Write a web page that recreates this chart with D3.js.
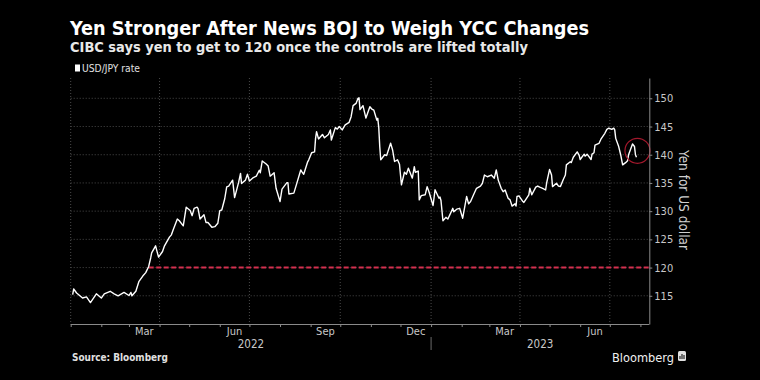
<!DOCTYPE html>
<html>
<head>
<meta charset="utf-8">
<script src="https://cdn.jsdelivr.net/npm/d3@7"></script>
<style>
  html, body { margin: 0; padding: 0; background: #000; }
  svg { display: block; }
  text { font-family: "DejaVu Sans Condensed", "Liberation Sans Narrow", "Roboto", sans-serif; }
</style>
</head>
<body>
<svg id="chart" width="760" height="380"></svg>
<script>
// ---- data ----
const dates = [
"2022-01-03","2022-01-04","2022-01-07","2022-01-13","2022-01-17","2022-01-21","2022-01-27","2022-02-01","2022-02-04","2022-02-10",
"2022-02-14","2022-02-18","2022-02-24","2022-03-01","2022-03-03","2022-03-04","2022-03-08","2022-03-11","2022-03-15","2022-03-18",
"2022-03-21","2022-03-23","2022-03-24","2022-03-28","2022-03-29","2022-03-31","2022-04-04","2022-04-06","2022-04-11","2022-04-13",
"2022-04-15","2022-04-19","2022-04-21","2022-04-25","2022-04-28","2022-05-02","2022-05-04","2022-05-06","2022-05-09","2022-05-10",
"2022-05-12","2022-05-16","2022-05-18","2022-05-20","2022-05-24","2022-05-27","2022-05-30","2022-06-01","2022-06-03","2022-06-06",
"2022-06-08","2022-06-10","2022-06-14","2022-06-16","2022-06-20","2022-06-22","2022-06-23","2022-06-27","2022-06-29","2022-07-01",
"2022-07-05","2022-07-08","2022-07-11","2022-07-12","2022-07-14","2022-07-18","2022-07-20","2022-07-22","2022-07-26","2022-07-28",
"2022-08-01","2022-08-03","2022-08-08","2022-08-09","2022-08-10","2022-08-15","2022-08-17","2022-08-22","2022-08-23","2022-08-25",
"2022-08-29","2022-08-30","2022-09-02","2022-09-05","2022-09-06","2022-09-07","2022-09-09","2022-09-13","2022-09-15","2022-09-19",
"2022-09-21","2022-09-22","2022-09-26","2022-09-28","2022-09-30","2022-10-03","2022-10-06","2022-10-10","2022-10-12","2022-10-14",
"2022-10-17","2022-10-19","2022-10-20","2022-10-21","2022-10-24","2022-10-27","2022-10-31","2022-11-02","2022-11-04","2022-11-07",
"2022-11-08","2022-11-09","2022-11-10","2022-11-11","2022-11-15","2022-11-17","2022-11-21","2022-11-23","2022-11-25","2022-11-28",
"2022-11-30","2022-12-01","2022-12-02","2022-12-05","2022-12-07","2022-12-09","2022-12-13","2022-12-15","2022-12-16","2022-12-19",
"2022-12-20","2022-12-22","2022-12-26","2022-12-28","2022-12-30","2023-01-03","2023-01-05","2023-01-09","2023-01-10","2023-01-11",
"2023-01-13","2023-01-16","2023-01-18","2023-01-23","2023-01-24","2023-01-27","2023-01-30","2023-02-02","2023-02-06","2023-02-08",
"2023-02-10","2023-02-13","2023-02-16","2023-02-20","2023-02-22","2023-02-24","2023-02-27","2023-03-03","2023-03-06","2023-03-08",
"2023-03-10","2023-03-13","2023-03-15","2023-03-17","2023-03-20","2023-03-22","2023-03-24","2023-03-27","2023-03-28","2023-03-29",
"2023-03-31","2023-04-04","2023-04-05","2023-04-10","2023-04-11","2023-04-13","2023-04-17","2023-04-19","2023-04-21","2023-04-24",
"2023-04-27","2023-04-28","2023-05-01","2023-05-03","2023-05-04","2023-05-08","2023-05-10","2023-05-12","2023-05-15","2023-05-17",
"2023-05-18","2023-05-22","2023-05-23","2023-05-25","2023-05-29","2023-05-31","2023-06-01","2023-06-05","2023-06-06","2023-06-08",
"2023-06-12","2023-06-13","2023-06-15","2023-06-16","2023-06-20","2023-06-22","2023-06-26","2023-06-28","2023-06-30","2023-07-03",
"2023-07-05","2023-07-06","2023-07-07","2023-07-10","2023-07-12","2023-07-14","2023-07-17","2023-07-19","2023-07-20","2023-07-24",
"2023-07-26","2023-07-27","2023-07-28"
];
const usdjpy = [
115.2,116.2,115.5,114.6,114.8,113.8,115.35,114.6,115.35,115.8,
115.35,115.0,115.6,115.05,115.6,115.0,115.8,117.5,118.5,119.1,
120.2,121.7,122.6,123.85,123.15,121.85,122.85,123.85,125.4,125.8,
126.8,128.6,128.3,127.4,130.7,130.1,129.2,130.5,130.7,130.45,
128.6,129.35,128.0,128.0,127.15,127.25,127.85,130.1,130.2,132.2,
134.3,134.45,135.5,132.4,135.05,136.7,134.9,135.5,136.55,135.35,
135.95,136.2,137.25,136.8,138.9,138.35,138.0,136.2,136.8,134.05,
131.7,133.9,135.05,135.05,133.05,133.2,134.35,137.3,137.0,136.55,
138.75,139.05,140.35,140.5,142.9,144.1,142.8,143.6,143.0,143.6,
144.4,142.6,144.8,144.55,145.0,144.4,145.3,145.75,146.75,148.7,
149.1,150.0,150.1,148.0,148.7,146.5,148.5,148.1,147.9,146.15,
146.45,144.8,141.45,139.1,140.0,139.85,142.05,140.85,138.8,139.1,
138.3,136.4,134.65,136.9,136.55,137.6,135.85,137.9,136.9,137.1,
132.0,132.75,132.9,134.35,133.35,131.0,133.8,132.3,132.5,131.9,
128.3,128.9,128.6,130.5,129.9,130.35,130.5,128.75,132.6,131.3,
131.7,132.9,134.05,134.45,134.95,136.4,136.1,136.4,135.85,137.3,
135.5,134.05,133.45,133.75,132.3,132.0,130.9,131.3,130.9,132.6,
132.7,131.7,131.55,132.9,134.05,132.9,134.25,134.45,134.25,134.05,
133.75,134.95,137.4,136.4,134.35,134.95,134.45,134.35,135.65,136.4,
138.2,138.75,138.6,139.55,140.5,139.9,139.15,140.1,139.75,140.1,
139.15,140.1,140.35,141.7,142.0,142.75,143.8,144.5,144.7,144.5,
144.7,144.4,142.9,141.45,140.0,138.2,138.6,138.95,140.0,141.9,
141.45,140.0,139.55
];
const yTicks = [115, 120, 125, 130, 135, 140, 145, 150];
const targetLevel = 120;
const gridQuarterStarts = ["2022-01-01","2022-04-01","2022-07-01","2022-10-01","2023-01-01","2023-04-01","2023-07-01"];
const monthLabelMonths = [["2022-03-01","Mar"],["2022-06-01","Jun"],["2022-09-01","Sep"],["2022-12-01","Dec"],["2023-03-01","Mar"],["2023-06-01","Jun"]];
const yearLabels = [["2022","2022-01-01","2023-01-01"],["2023","2023-01-01","2023-08-10"]];
const circleAt = ["2023-07-29", 140.7];
const domainStart = "2022-01-01", domainEnd = "2023-08-10";

// ---- setup ----
const parse = d3.utcParse("%Y-%m-%d");
const svg = d3.select("#chart");
svg.append("rect").attr("width", 760).attr("height", 380).attr("fill", "#000");

const L = 70.7, R = 649.3, T = 78, B = 324;
const x = d3.scaleUtc().domain([parse(domainStart), parse(domainEnd)]).range([L, R]);
const y = d3.scaleLinear().domain([110, 153.6]).range([B, T]);

function fit(sel, w) {
  const n = sel.node();
  const fs = parseFloat(sel.attr("font-size"));
  const len = n.getComputedTextLength();
  if (len > 0) sel.attr("font-size", (fs * w / len).toFixed(2));
  return sel;
}

// titles
fit(svg.append("text").attr("x", 70).attr("y", 35).attr("fill", "#fff")
  .attr("font-size", 18).attr("font-weight", "bold")
  .text("Yen Stronger After News BOJ to Weigh YCC Changes"), 519);
fit(svg.append("text").attr("x", 70).attr("y", 51.5).attr("fill", "#e8e8e8")
  .attr("font-size", 13).attr("font-weight", "bold")
  .text("CIBC says yen to get to 120 once the controls are lifted totally"), 458);

// legend
svg.append("rect").attr("x", 75).attr("y", 64.5).attr("width", 5).attr("height", 7).attr("fill", "#fff");
fit(svg.append("text").attr("x", 82).attr("y", 72).attr("fill", "#e0e0e0")
  .attr("font-size", 9).text("USD/JPY rate"), 58);

// gridlines
const g = svg.append("g");
g.selectAll("line.hg").data(yTicks).join("line")
  .attr("x1", L).attr("x2", R).attr("y1", d => y(d)).attr("y2", d => y(d))
  .attr("stroke", "#4a4a4a").attr("stroke-width", 1).attr("stroke-dasharray", "1,2");
g.selectAll("line.vg").data(gridQuarterStarts.map(parse)).join("line")
  .attr("x1", d => x(d)).attr("x2", d => x(d)).attr("y1", T).attr("y2", B)
  .attr("stroke", "#4a4a4a").attr("stroke-width", 1).attr("stroke-dasharray", "1,2");

// target line
svg.append("line")
  .attr("x1", x(parse("2022-03-21"))).attr("x2", R)
  .attr("y1", y(targetLevel)).attr("y2", y(targetLevel))
  .attr("stroke", "#d4304f").attr("stroke-width", 2).attr("stroke-dasharray", "5,2.5");

// series line
const series = dates.map((d, i) => ({ date: parse(d), v: usdjpy[i] }));
svg.append("path").datum(series)
  .attr("fill", "none").attr("stroke", "#fff").attr("stroke-width", 1.4)
  .attr("stroke-linejoin", "round")
  .attr("d", d3.line().x(d => x(d.date)).y(d => y(d.v)));

// circle highlight
svg.append("circle").attr("cx", x(parse(circleAt[0]))).attr("cy", y(circleAt[1])).attr("r", 12.5)
  .attr("fill", "none").attr("stroke", "#a3182c").attr("stroke-width", 1.2);

// bottom axis
const xAxis = d3.axisBottom(x).ticks(d3.utcMonth.every(1)).tickSize(3).tickSizeOuter(0).tickFormat("");
const xg = svg.append("g").attr("transform", `translate(0,${B})`).call(xAxis);
xg.selectAll("path,line").attr("stroke", "#8a8a8a");
xg.select(".domain").attr("d", `M${L},0.5H${R}`);

// month labels
svg.selectAll("text.ml").data(monthLabelMonths).join("text")
  .attr("x", d => { const s = parse(d[0]); return (x(s) + x(d3.utcMonth.offset(s, 1))) / 2; })
  .attr("y", 335).attr("text-anchor", "middle").attr("fill", "#c8c8c8").attr("font-size", 11)
  .text(d => d[1]);
svg.selectAll("text.yl").data(yearLabels).join("text")
  .attr("x", d => (x(parse(d[1])) + x(parse(d[2]))) / 2)
  .attr("y", 348).attr("text-anchor", "middle").attr("fill", "#c8c8c8").attr("font-size", 11.5)
  .text(d => d[0]);
svg.append("line").attr("x1", x(parse("2023-01-01"))).attr("x2", x(parse("2023-01-01")))
  .attr("y1", 337).attr("y2", 350).attr("stroke", "#6a6a6a").attr("stroke-width", 1);

// right axis
const yAxis = d3.axisRight(y).tickValues(yTicks).tickSize(3).tickSizeOuter(0).tickPadding(2);
const yg = svg.append("g").attr("transform", `translate(${R},0)`).call(yAxis);
yg.selectAll("path,line").attr("stroke", "#8a8a8a");
yg.selectAll("text").attr("fill", "#c8c8c8").attr("font-size", 11)
  .attr("font-family", "'DejaVu Sans Condensed', 'Liberation Sans Narrow', sans-serif");

// right axis title
svg.append("text").attr("transform", "translate(679,200) rotate(90)")
  .attr("text-anchor", "middle").attr("fill", "#d0d0d0").attr("font-size", 13.5)
  .text("Yen for US dollar");

// footer
fit(svg.append("text").attr("x", 72).attr("y", 361).attr("fill", "#e0e0e0")
  .attr("font-size", 10).attr("font-weight", "bold").text("Source: Bloomberg"), 96);
fit(svg.append("text").attr("x", 612).attr("y", 362).attr("fill", "#f0f0f0")
  .attr("font-size", 14).text("Bloomberg"), 62);
svg.append("rect").attr("x", 678).attr("y", 351).attr("width", 8).attr("height", 10).attr("rx", 1.5)
  .attr("fill", "#e0e0e0");
svg.selectAll("rect.bar").data([3, 5, 4]).join("rect")
  .attr("x", (d, i) => 679.5 + i * 2).attr("y", d => 359 - d).attr("width", 1).attr("height", d => d)
  .attr("fill", "#000");
</script>
</body>
</html>
